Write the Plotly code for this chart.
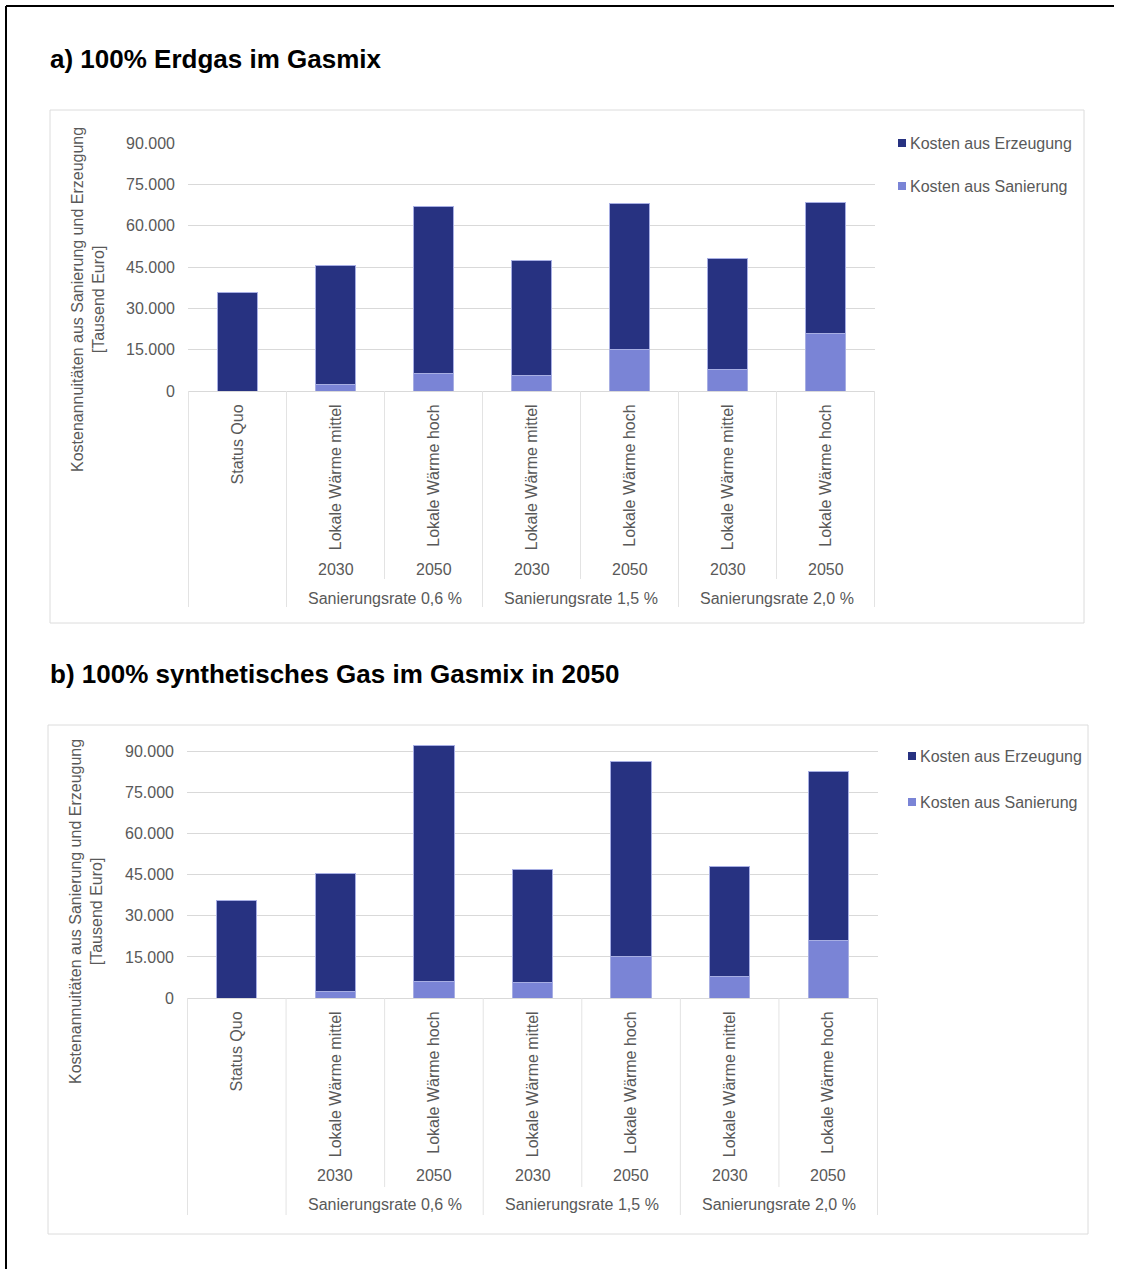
import plotly.graph_objects as go

# --- data -------------------------------------------------------------
szenarien = ["Status Quo", "Lokale Wärme mittel", "Lokale Wärme hoch",
             "Lokale Wärme mittel", "Lokale Wärme hoch",
             "Lokale Wärme mittel", "Lokale Wärme hoch"]
jahre = ["", "2030", "2050", "2030", "2050", "2030", "2050"]
raten = ["", "Sanierungsrate 0,6 %", "Sanierungsrate 0,6 %",
         "Sanierungsrate 1,5 %", "Sanierungsrate 1,5 %",
         "Sanierungsrate 2,0 %", "Sanierungsrate 2,0 %"]
gruppen = ["Sanierungsrate 0,6 %", "Sanierungsrate 1,5 %", "Sanierungsrate 2,0 %"]

# a) 100% Erdgas im Gasmix  [Tausend Euro]
sanierung_a = [0, 2200, 6200, 5600, 15000, 7900, 20900]
erzeugung_a = [35600, 43300, 60600, 41600, 53100, 40100, 47400]

# b) 100% synthetisches Gas im Gasmix in 2050  [Tausend Euro]
sanierung_b = [0, 2200, 6200, 5600, 15000, 7900, 20900]
erzeugung_b = [35500, 43200, 86000, 41400, 71400, 40000, 61800]

y_ticks = [0, 15000, 30000, 45000, 60000, 75000, 90000]

# --- style --------------------------------------------------------------
W, H = 1123, 1269
FONT = "Liberation Sans, Arial, sans-serif"
GREY_TXT = "#595959"
GRID = "#d9d9d9"
C_ERZ = "#273281"
C_SAN = "#7a84d6"
EDGE = "#a7aee3"


def px(x):
    return x / W


def py(y):
    return 1 - y / H


keys = [" ".join(p for p in (r, j, s) if p) for r, j, s in zip(raten, jahre, szenarien)]

fig = go.Figure()

panels = [
    dict(title="a) 100% Erdgas im Gasmix", title_y=59,
         san=sanierung_a, erz=erzeugung_a, xa="x", ya="y",
         x0=188, x1=875, y_zero=391, y_top=143, ymax=90000,
         box=(50, 110, 1084, 623), year_y=569, group_y=598,
         sep_part=579, sep_full=607, legend_x=898, legend_y=(143, 186),
         ytitle=(88, 300)),
    dict(title="b) 100% synthetisches Gas im Gasmix in 2050", title_y=674,
         san=sanierung_b, erz=erzeugung_b, xa="x2", ya="y2",
         x0=187, x1=878, y_zero=998, y_top=738, ymax=95000,
         box=(48, 725, 1088, 1234), year_y=1175, group_y=1204,
         sep_part=1187, sep_full=1215, legend_x=908, legend_y=(756, 802),
         ytitle=(86, 912)),
]

shapes = []
annotations = []

# outer frame (top and left edge)
shapes.append(dict(type="line", xref="paper", yref="paper",
                   x0=px(6), x1=px(1114), y0=py(6), y1=py(6),
                   line=dict(color="black", width=2)))
shapes.append(dict(type="line", xref="paper", yref="paper",
                   x0=px(6), x1=px(6), y0=py(6), y1=py(1269),
                   line=dict(color="black", width=2)))

for i, p in enumerate(panels):
    sfx = "" if i == 0 else "2"
    # stacked bars: Sanierung at the bottom, Erzeugung on top
    fig.add_trace(go.Bar(x=keys, y=p["san"], name="Kosten aus Sanierung",
                         marker=dict(color=C_SAN, line=dict(color=EDGE, width=1)),
                         xaxis=p["xa"], yaxis=p["ya"], showlegend=False))
    fig.add_trace(go.Bar(x=keys, y=p["erz"], name="Kosten aus Erzeugung",
                         marker=dict(color=C_ERZ, line=dict(color=EDGE, width=1)),
                         xaxis=p["xa"], yaxis=p["ya"], showlegend=False))

    # axis scaling: domain such that 0 .. ymax spans y_zero .. y_top
    fig.update_layout(**{
        "xaxis" + sfx: dict(
            domain=[px(p["x0"]), px(p["x1"])], anchor="y" + sfx,
            type="category", tickvals=keys, ticktext=szenarien,
            tickangle=-90, ticks="", showgrid=False,
            showline=True, linecolor=GRID, linewidth=1,
            tickfont=dict(family=FONT, size=16, color=GREY_TXT),
            ticklabelstandoff=6, fixedrange=True, automargin=False),
        "yaxis" + sfx: dict(
            domain=[py(p["y_zero"]), py(p["y_top"])], anchor="x" + sfx,
            range=[0, p["ymax"]], tickvals=y_ticks, tickformat=",d",
            showgrid=True, gridcolor=GRID, gridwidth=1, zeroline=False,
            showline=False, ticks="",
            tickfont=dict(family=FONT, size=16, color=GREY_TXT),
            ticklabelstandoff=12, fixedrange=True, automargin=False),
    })

    # panel frame
    bx0, by0, bx1, by1 = p["box"]
    shapes.append(dict(type="rect", xref="paper", yref="paper",
                       x0=px(bx0), x1=px(bx1), y0=py(by1), y1=py(by0),
                       line=dict(color="#dcdcdc", width=1), layer="below"))

    # category separators below the axis
    for b in [-0.5, 0.5, 1.5, 2.5, 3.5, 4.5, 5.5, 6.5]:
        full = b in (-0.5, 0.5, 2.5, 4.5, 6.5)
        shapes.append(dict(type="line", xref=p["xa"], yref="paper",
                           x0=b, x1=b, y0=py(p["y_zero"]),
                           y1=py(p["sep_full"] if full else p["sep_part"]),
                           line=dict(color="#e3e3e3", width=1)))

    # year labels
    for k, j in zip(keys, jahre):
        if j:
            annotations.append(dict(x=k, y=py(p["year_y"]), xref=p["xa"], yref="paper",
                                    text=j, showarrow=False, yanchor="middle",
                                    font=dict(family=FONT, size=16, color=GREY_TXT)))
    # group labels (centred over their two columns)
    for g in gruppen:
        idx = [n for n, r in enumerate(raten) if r == g]
        annotations.append(dict(x=sum(idx) / len(idx), y=py(p["group_y"]),
                                xref=p["xa"], yref="paper", text=g,
                                showarrow=False, yanchor="middle",
                                font=dict(family=FONT, size=16, color=GREY_TXT)))

    # axis title
    tx, ty = p["ytitle"]
    annotations.append(dict(x=px(tx), y=py(ty), xref="paper", yref="paper",
                            text="Kostenannuitäten aus Sanierung und Erzeugung<br>[Tausend Euro]",
                            textangle=-90, showarrow=False,
                            xanchor="center", yanchor="middle",
                            font=dict(family=FONT, size=16, color=GREY_TXT)))

    # panel heading
    annotations.append(dict(x=px(48), y=py(p["title_y"]), xref="paper", yref="paper",
                            text="<b>" + p["title"] + "</b>", showarrow=False,
                            xanchor="left", yanchor="middle",
                            font=dict(family=FONT, size=26, color="black")))

    # legend
    lx = p["legend_x"]
    for (name, col), ly in zip([("Kosten aus Erzeugung", C_ERZ),
                                ("Kosten aus Sanierung", C_SAN)], p["legend_y"]):
        shapes.append(dict(type="rect", xref="paper", yref="paper",
                           x0=px(lx), x1=px(lx + 8), y0=py(ly + 4), y1=py(ly - 4),
                           fillcolor=col, line=dict(width=0)))
        annotations.append(dict(x=px(lx + 10), y=py(ly), xref="paper", yref="paper",
                                text=name, showarrow=False,
                                xanchor="left", yanchor="middle",
                                font=dict(family=FONT, size=16, color=GREY_TXT)))

fig.update_layout(
    template="none",
    width=W, height=H,
    margin=dict(l=0, r=0, t=0, b=0, pad=0, autoexpand=False),
    paper_bgcolor="white", plot_bgcolor="white",
    barmode="stack", bargap=0.59,
    separators=",.",
    showlegend=False,
    shapes=shapes, annotations=annotations,
    font=dict(family=FONT, size=16, color=GREY_TXT),
)

# page without default body margin so the figure fills the window exactly
fig.write_html("out.html",
               post_script="document.body.style.margin='0px';document.body.style.overflow='hidden';")
